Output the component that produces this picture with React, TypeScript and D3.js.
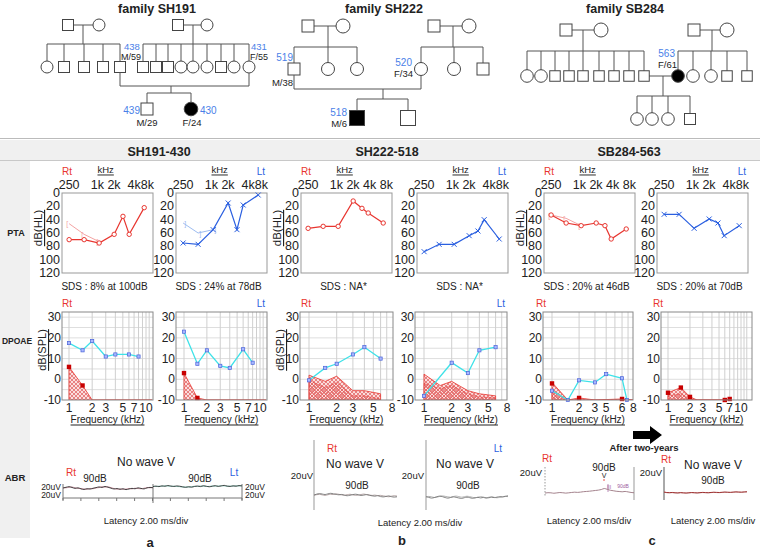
import React from 'react';
import * as d3 from 'd3';

const FONT = "'Liberation Sans', Arial, Helvetica, sans-serif";
const RED = '#e8352f';
const BLUE = '#2a5fe0';
const IDBLUE = '#4a7fe8';
const CYAN = '#3ee2e8';

// ---------------- PTA data ----------------
const ptaFreqs = [250, 500, 1000, 2000, 3000, 4000, 8000];
const ptaBcFreqs = [250, 500, 1000];
const ptaTicks = [0, 20, 40, 60, 80, 100, 120];
const ptaA_Rt = [70, 70, 75, 62, 35, 62, 22];
const ptaA_RtBC = [46, 62, 73];
const ptaA_Lt = [75, 77, 55, 15, 55, 18, 3];
const ptaA_LtBC = [45, 60, 55];
const ptaB_Rt = [53, 50, 50, 12, 23, 30, 45];
const ptaB_Lt = [88, 77, 77, 64, 57, 40, 69];
const ptaC_Rt = [33, 45, 49, 45, 49, 69, 54];
const ptaC_RtBC = [33, 38, 49];
const ptaC_Lt = [32, 32, 53, 39, 45, 64, 49];
const sdsTexts = ['SDS : 8% at 100dB', 'SDS : 24% at 78dB', 'SDS : NA*', 'SDS : NA*', 'SDS : 20% at 46dB', 'SDS : 20% at 70dB'];

// ---------------- DPOAE data ----------------
const dpTicksY = [-10, 0, 10, 20, 30];
const ticksA = [1, 2, 3, 5, 7, 10];
const ticksB = [1, 2, 3, 5, 8];
const ticksC = [1, 2, 3, 4, 6, 8];
const ticksCLabels = ['1', '2', '3', '5', '6', '8'];

const dpA_Rt_f = [1, 1.5, 2, 3, 4, 6, 8];
const dpA_Rt = [17.5, 14, 18.5, 11, 12, 12, 11];
const nfA_Rt_f = [1, 1.5, 2, 12];
const nfA_Rt = [6, -3, -10, -10];

const dpA_Lt_f = [1, 1.5, 2, 3, 4, 6, 8];
const dpA_Lt = [23, 7.5, 14, 6.5, 5.5, 14.5, 8];
const nfA_Lt_f = [1, 1.5, 2, 12];
const nfA_Lt = [3, -9, -10, -10];

const dpB_Rt_f = [1, 1.5, 2, 3, 4, 6];
const dpB_Rt = [-0.5, 5.5, 7.5, 12, 15.5, 10];
const nfB_f = [1, 1.5, 2, 3, 4, 6];
const nfB_RtHi = [2, -1, 1.5, -5.5, -5.5, -7];
const nfB_RtLo = [-0.5, -4, -1.5, -8, -8, -9.5];

const dpB_Lt_f = [1, 2, 3, 4, 6];
const dpB_Lt = [-8, 8, 3, 14, 15.5];
const nfB_LtHi = [2.5, -3, -1, -5.5, -7, -8];
const nfB_LtLo = [-2, -4.5, -3, -7, -8.5, -9];

const dpC_Rt_f = [1, 1.5, 2, 3, 4, 6, 6.8];
const dpC_Rt = [-5.5, -10, -0.5, -1.5, 2.5, 0.5, -10];
const nfC_Rt_f = [1, 1.5, 2, 3, 6, 8];
const nfC_Rt = [-1.5, -10, -9, -10, -9.5, -10];
const nfC_RtLo = [-5, -10, -10, -10, -10, -10];
const redC_Rt_f = [1, 2, 6];
const redC_Rt = [-2, -9, -9.5];

const nfC_Lt_f = [1, 1.5, 2, 2.5, 6, 7];
const nfC_Lt = [-6.5, -4, -8.5, -10, -10, -9.5];
const nfC_LtLo = [-8, -7, -9.5, -10, -10, -10];
const redC_Lt_f = [1, 1.5, 2, 6, 7];
const redC_Lt = [-6.5, -4, -8.5, -10, -9.5];

// ---------------- ABR traces (uV, 0..10 ms) ----------------
const abrA_Rt1 = [0.0, 1.2, 2.2, 0.9, -0.6, 0.3, -1.5, -2.4, -1.2, -1.8, -0.4, 0.6, 1.8, 0.9, 2.6, 1.3, -0.3, -1.6, -0.9, -2.2, -1.3, -2.7, -1.6, -0.6, -1.3, 0.3, -0.7, -1.5, 0.2, 1.0, 0.4];
const abrA_Rt2 = [0.4, 0.3, 1.3, 1.6, 0.3, -0.7, -0.9, -1.8, -2.1, -0.7, -1.2, 0.2, 0.7, 2.1, 1.5, 1.9, 0.6, -0.9, -1.9, -1.5, -2.1, -1.8, -0.9, -1.5, -0.3, -0.9, -1.3, -0.4, 0.6, 0.3, 0.9];
const abrA_Lt1 = [0.7, 1.5, 0.6, 1.9, 1.2, 2.4, 1.6, 0.9, 1.8, 1.3, 0.3, -0.6, 0.4, -0.3, 0.9, 1.6, 0.7, 2.1, 1.2, 0.4, 1.3, 2.2, 1.0, 1.8, 2.7, 1.5, 0.9, 1.9, 1.3, 2.4, 1.8];
const abrA_Lt2 = [1.1, 0.8, 1.4, 1.2, 2.0, 1.7, 1.1, 1.4, 0.8, 0.6, -0.2, 0.2, -0.1, 0.5, 1.2, 0.8, 1.6, 1.4, 0.9, 1.0, 1.7, 1.4, 1.6, 2.1, 1.9, 1.2, 1.5, 1.6, 2.0, 1.7, 2.2];
const abrB_Rt1 = [0.0, 1.5, 2.4, 1.6, 0.8, 1.9, 2.8, 2.0, 1.1, 0.3, 0.9, -0.4, -1.2, -0.5, 0.6, 1.3, 0.4, -0.8, -0.2, 0.7, -0.5, -1.4, -2.0, -1.1, -2.6, -3.2, -2.4, -1.5, -2.8, -3.5, -3.0];
const abrB_Rt2 = [-0.5, 0.6, 1.0, 0.2, -0.6, 0.4, 1.2, 0.9, 1.8, 1.1, 0.2, -0.2, 0.5, 1.2, 0.3, -0.5, -0.1, 0.8, 1.5, 0.6, 0.1, -0.7, -0.2, -1.0, -0.6, -1.5, -2.2, -2.9, -2.0, -1.3, -1.8];
const abrB_Lt1 = [0.5, -0.6, -1.8, -1.0, 0.4, 1.5, 0.6, -0.9, -1.9, -0.8, 0.2, -0.5, -1.6, -2.4, -1.2, -0.3, -1.1, -2.2, -1.4, -0.6, -1.5, -0.7, -1.8, -1.2, -0.4, -1.0, -0.2, 0.6, 0.1, 1.0, 2.0];
const abrB_Lt2 = [0.0, 1.0, 0.4, -0.8, -0.2, 0.9, 1.8, 1.1, 0.2, -0.4, 0.8, 1.5, 0.7, -0.3, 0.4, 1.3, 0.5, -0.5, -1.2, -0.3, 0.6, -0.2, -1.1, -0.4, 0.5, -0.6, -1.3, -0.5, 0.4, 1.2, 0.6];
const abrC_Rt = [0.0, 0.5, 0.3, -0.4, 0.2, 0.8, 0.4, -0.2, 0.3, 0.9, 1.4, 1.0, 1.5, 2.2, 2.6, 3.0, 3.6, 4.2, 4.8, 5.8, 7.5, 6.0, 4.6, 3.8, 2.9, 2.5, 2.0, 2.6, 1.8, 0.9, 0.4];
const abrC_Lt1 = [1.5, 0.8, 0.6, 0.9, 0.4, 0.2, 0.7, 0.3, 0.0, 0.4, 0.8, 0.5, 0.2, 0.6, 1.0, 0.7, 0.5, 0.9, 1.3, 1.0, 0.8, 1.2, 1.6, 1.3, 1.1, 1.5, 1.9, 1.6, 1.4, 1.8, 2.1];
const abrC_Lt2 = [2.5, 0.4, 0.2, 0.5, 0.1, -0.2, 0.3, 0.0, -0.3, 0.1, 0.5, 0.2, -0.1, 0.3, 0.7, 0.4, 0.2, 0.6, 1.0, 0.7, 0.5, 0.9, 1.3, 1.0, 0.8, 1.2, 1.6, 1.3, 1.1, 1.5, 1.8];

function T({ x, y, s = 10, c = '#222', a = 'middle', w = 'normal', u = false, children }: any) {
  return (
    <text x={x} y={y} fontSize={s} fill={c} textAnchor={a} fontWeight={w} dominantBaseline="central"
      textDecoration={u ? 'underline' : undefined} fontFamily={FONT}>{children}</text>
  );
}

function L({ x1, y1, x2, y2, c = '#555' }: any) {
  return <line x1={x1} y1={y1} x2={x2} y2={y2} stroke={c} strokeWidth={1} />;
}
function Sq({ x, y, s = 11, f = false }: any) {
  return <rect x={x - s / 2} y={y - s / 2} width={s} height={s} fill={f ? '#000' : '#fff'} stroke="#444" strokeWidth={1} />;
}
function Ci({ x, y, r = 6, f = false }: any) {
  return <circle cx={x} cy={y} r={r} fill={f ? '#000' : '#fff'} stroke="#444" strokeWidth={1} />;
}
function Sib({ y, xs, to }: any) {
  const mn = Math.min(...xs), mx = Math.max(...xs);
  return (
    <g>
      <L x1={mn} y1={y} x2={mx} y2={y} />
      {xs.map((x: number, i: number) => <L key={i} x1={x} y1={y} x2={x} y2={to} />)}
    </g>
  );
}

function Pedigrees() {
  return (
    <g>
      {/* SH191 */}
      <T x={157} y={9} s={12.5} w="bold">family SH191</T>
      <L x1={73} y1={25} x2={93} y2={25} /><L x1={83} y1={25} x2={83} y2={44} />
      <Sib y={44} xs={[47, 64, 84, 103, 120]} to={65} />
      <L x1={184} y1={25} x2={201} y2={25} /><L x1={193} y1={25} x2={193} y2={44} />
      <Sib y={44} xs={[143, 156, 168, 181, 193, 207, 221, 234, 249]} to={65} />
      <Sq x={68} y={25} /><Ci x={99} y={25} />
      <Sq x={178} y={25} /><Ci x={207} y={25} />
      <Ci x={47} y={67} /><Sq x={64} y={67} /><Sq x={84} y={67} /><Sq x={103} y={67} /><Sq x={120} y={67} />
      <Sq x={143} y={67} /><Sq x={156} y={67} /><Sq x={168} y={67} /><Ci x={181} y={67} /><Ci x={193} y={67} />
      <Ci x={207} y={67} /><Sq x={221} y={67} /><Ci x={234} y={67} /><Ci x={249} y={67} />
      <L x1={120} y1={72.5} x2={120} y2={86} /><L x1={120} y1={86} x2={249} y2={86} /><L x1={249} y1={73} x2={249} y2={86} />
      <L x1={171} y1={86} x2={171} y2={93} />
      <Sib y={93} xs={[147, 191]} to={103} />
      <Sq x={147} y={109} s={12} /><Ci x={191} y={109} r={6.8} f />
      <T x={124} y={46} s={9.5} c={IDBLUE} a="start">438</T>
      <T x={121} y={56.5} s={9} a="start">M/59</T>
      <T x={251} y={46} s={9.5} c={IDBLUE} a="start">431</T>
      <T x={250} y={56.5} s={9} a="start">F/55</T>
      <T x={140} y={110} s={10} c={IDBLUE} a="end">439</T>
      <T x={200} y={110} s={10} c={IDBLUE} a="start">430</T>
      <T x={147} y={122} s={9.5}>M/29</T>
      <T x={192} y={122} s={9.5}>F/24</T>

      {/* SH222 */}
      <T x={384} y={9} s={12.5} w="bold">family SH222</T>
      <L x1={314} y1={26} x2={336} y2={26} /><L x1={328} y1={26} x2={328} y2={47} />
      <Sib y={47} xs={[294, 328, 357]} to={64} />
      <L x1={440} y1={26} x2={462} y2={26} /><L x1={453} y1={26} x2={453} y2={47} />
      <Sib y={47} xs={[421, 454, 483]} to={64} />
      <Sq x={308} y={26} s={12} /><Ci x={343} y={26} r={7} />
      <Sq x={434} y={26} s={12} /><Ci x={469} y={26} r={7} />
      <Sq x={294} y={69} s={12} /><Ci x={328} y={69} r={6.5} /><Ci x={357} y={69} r={6.5} />
      <Ci x={421} y={69} r={6.5} /><Ci x={454} y={69} r={6.5} /><Sq x={483} y={69} s={12} />
      <L x1={294} y1={75} x2={294} y2={89} /><L x1={294} y1={89} x2={421} y2={89} /><L x1={421} y1={75.5} x2={421} y2={89} />
      <L x1={383} y1={89} x2={383} y2={99} />
      <Sib y={99} xs={[357, 408]} to={111} />
      <Sq x={357} y={118} s={15} f /><Sq x={408} y={118} s={15} />
      <T x={293} y={57} s={10} c={IDBLUE} a="end">519</T>
      <T x={293} y={82} s={9.5} a="end">M/38</T>
      <T x={412} y={62} s={10} c={IDBLUE} a="end">520</T>
      <T x={413} y={73} s={9.5} a="end">F/34</T>
      <T x={347} y={112} s={10} c={IDBLUE} a="end">518</T>
      <T x={347} y={123} s={9.5} a="end">M/6</T>

      {/* SB284 */}
      <T x={625} y={9} s={12.5} w="bold">family SB284</T>
      <L x1={572} y1={30} x2={594} y2={30} /><L x1={583} y1={30} x2={583} y2={51} />
      <Sib y={51} xs={[527, 541, 555, 569, 583, 599, 614, 629, 644]} to={71} />
      <L x1={700} y1={30} x2={720} y2={30} /><L x1={712} y1={30} x2={712} y2={51} />
      <Sib y={51} xs={[678, 693, 711, 727, 747]} to={71} />
      <Sq x={566} y={30} s={12} /><Ci x={601} y={30} r={7} />
      <Sq x={694} y={30} s={12} /><Ci x={727} y={30} r={7} />
      <L x1={644} y1={76} x2={678} y2={76} /><L x1={663} y1={76} x2={663} y2={96} />
      <Ci x={527} y={76} r={6.3} /><Ci x={541} y={76} r={6.3} />
      {[555, 569, 583, 599, 614, 629, 644].map((x) => <Sq key={x} x={x} y={76} s={10.5} />)}
      <Ci x={678} y={76} r={6.3} f /><Ci x={693} y={76} r={6.3} /><Ci x={711} y={76} r={6.3} />
      <Sq x={727} y={76} s={10.5} /><Sq x={747} y={76} s={10.5} />
      <Sib y={96} xs={[637, 652, 668, 690]} to={113} />
      <Ci x={637} y={119} r={6.3} /><Ci x={652} y={119} r={6.3} /><Ci x={668} y={119} r={6.3} /><Sq x={690} y={119} s={11} />
      <T x={675} y={53} s={10} c={IDBLUE} a="end">563</T>
      <T x={677} y={64} s={9.5} a="end">F/61</T>
    </g>
  );
}

function PTA({ x0, ear, vals, bc, showY, sds, lab48 }: any) {
  const w = 91, top = 193, h = 80;
  const x = d3.scaleLog().domain([180, 12000]).range([x0, x0 + w]);
  const y = d3.scaleLinear().domain([0, 120]).range([top, top + h]);
  const rt = ear === 'Rt';
  const col = rt ? RED : BLUE;
  const lcol = rt ? '#f4a3a3' : '#9dbcf0';
  const line = d3.line<any>().x((d) => x(d[0])).y((d) => y(d[1]));
  const pts = ptaFreqs.map((f, i) => [f, vals[i]]);
  const bcPts = bc ? ptaBcFreqs.map((f, i) => [f, bc[i]]) : [];
  return (
    <g>
      <rect x={x0} y={top} width={w} height={h} fill="#fff" stroke="#999" strokeWidth={1} />
      {ptaTicks.map((t) => <T key={t} x={x0 - 2} y={y(t)} s={12.5} a="end">{t}</T>)}
      <T x={x(250)} y={185} s={12.5}>250</T>
      <T x={x(1414) - 1} y={185} s={12.5}>1k 2k</T>
      <T x={x0 + w + 1} y={185} s={12.5} a="end">{lab48}</T>
      <T x={x(1414) - 1} y={169} s={9.5} u>kHz</T>
      {rt ? <T x={x0} y={171} s={10} c={RED} a="start">Rt</T>
        : <T x={x0 + w - 2} y={171} s={10} c={BLUE} a="end">Lt</T>}
      {showY && (
        <text transform={`translate(${x0 - 24},${top + 35}) rotate(-90)`} fontSize={11.5} textAnchor="middle"
          dominantBaseline="central" textDecoration="underline" fontFamily={FONT} fill="#222">dB(HL)</text>
      )}
      {bc && <path d={line(bcPts) || ''} stroke={lcol} strokeWidth={1} fill="none" />}
      {bcPts.map((d, i) => <T key={'b' + i} x={x(d[0]) + (rt ? -2 : 2)} y={y(d[1])} s={7} c={lcol}>{rt ? '[' : ']'}</T>)}
      <path d={line(pts) || ''} stroke={col} strokeWidth={1.2} fill="none" />
      {pts.map((d, i) => rt
        ? <circle key={i} cx={x(d[0])} cy={y(d[1])} r={2.2} fill="#fff" stroke={col} strokeWidth={1} />
        : <path key={i} d={`M${x(d[0]) - 2.5},${y(d[1]) - 2.5}L${x(d[0]) + 2.5},${y(d[1]) + 2.5}M${x(d[0]) - 2.5},${y(d[1]) + 2.5}L${x(d[0]) + 2.5},${y(d[1]) - 2.5}`} stroke={col} strokeWidth={1} />)}
      <T x={x0 + w / 2 - 3} y={286} s={10}>{sds}</T>
    </g>
  );
}

function DP({ id, x0, x1, x1k, ppd, ticks, tickLabels, dpF, dp, nF, nHi, nLo, rF, rV, showY, ear, earX, earAnchor }: any) {
  const top = 312, bot = 400;
  const x = d3.scaleLog().domain([1, 10]).range([x1k, x1k + ppd]);
  const y = d3.scaleLinear().domain([-10, 32.5]).range([bot, top]);
  const grid = d3.range(1, 13).filter((v) => x(v) > x0 + 1 && x(v) < x1 - 1);
  const hgrid = d3.range(-5, 32, 5);
  const area = d3.area<any>().x((d) => x(d[0])).y0(y(-10)).y1((d) => y(d[1]));
  const line = d3.line<any>().x((d) => x(d[0])).y((d) => y(d[1]));
  const hi = nF.map((f: number, i: number) => [f, nHi[i]]);
  const lo = nLo ? nF.map((f: number, i: number) => [f, nLo[i]]) : null;
  const dpts = dpF ? dpF.map((f: number, i: number) => [f, dp[i]]) : null;
  const reds = rF.map((f: number, i: number) => [f, rV[i]]);
  return (
    <g>
      <clipPath id={id}><rect x={x0} y={top} width={x1 - x0} height={bot - top} /></clipPath>
      <rect x={x0} y={top} width={x1 - x0} height={bot - top} fill="#fff" />
      {hgrid.map((v) => <line key={'h' + v} x1={x0} x2={x1} y1={y(v)} y2={y(v)} stroke="#dedede" strokeWidth={1} />)}
      {grid.map((v) => <line key={'v' + v} x1={x(v)} x2={x(v)} y1={top} y2={bot} stroke="#cfcfcf" strokeWidth={1} />)}
      <g clipPath={`url(#${id})`}>
        <path d={area(hi) || ''} fill="url(#hatch)" stroke={RED} strokeWidth={0.8} />
        {lo && <path d={area(lo) || ''} fill="url(#hatch2)" stroke={RED} strokeWidth={0.6} strokeOpacity={0.7} />}
        {dpts && <path d={line(dpts) || ''} stroke={CYAN} strokeWidth={1.3} fill="none" />}
      </g>
      {dpts && dpts.map((d: any, i: number) => (
        <rect key={i} x={x(d[0]) - 1.6} y={y(d[1]) - 1.6} width={3.2} height={3.2} fill="#a9b8ff" stroke="#4a63d9" strokeWidth={0.7} />
      ))}
      {reds.map((d: any, i: number) => (
        <rect key={'r' + i} x={x(d[0]) - 2.2} y={y(d[1]) - 2.2} width={4.4} height={4.4} fill="#c80000" />
      ))}
      <rect x={x0} y={top} width={x1 - x0} height={bot - top} fill="none" stroke="#888" strokeWidth={1} />
      {dpTicksY.map((t) => <T key={t} x={x0 - 1} y={y(t)} s={12} a="end">{t}</T>)}
      {ticks.map((t: number, i: number) => <T key={'t' + i} x={x(t)} y={408} s={12}>{tickLabels ? tickLabels[i] : t}</T>)}
      <T x={(x0 + x1) / 2} y={419} s={10} u>Frequency (kHz)</T>
      {showY && (
        <text transform={`translate(${x0 - 20},350) rotate(-90)`} fontSize={11} textAnchor="middle"
          dominantBaseline="central" textDecoration="underline" fontFamily={FONT} fill="#222">dB(SPL)</text>
      )}
      <T x={earX} y={303} s={10} c={ear === 'Rt' ? RED : BLUE} a={earAnchor}>{ear}</T>
    </g>
  );
}

function Trace({ x0, x1, base, vals, color, w = 0.9 }: any) {
  const x = d3.scaleLinear().domain([0, 10]).range([x0, x1]);
  const y = d3.scaleLinear().domain([-20, 20]).range([base + 12, base - 12]);
  const step = 10 / (vals.length - 1);
  const line = d3.line<number>().x((_, i) => x(i * step)).y((d) => y(d)).curve(d3.curveMonotoneX);
  return <path d={line(vals) || ''} stroke={color} strokeWidth={w} fill="none" />;
}

function ABR() {
  const axA = d3.scaleLinear().domain([0, 20]).range([63, 242]);
  return (
    <g>
      {/* a */}
      <T x={146} y={462} s={12}>No wave V</T>
      <T x={71} y={472} c={RED}>Rt</T>
      <T x={234} y={472} c={BLUE}>Lt</T>
      <T x={95} y={478}>90dB</T>
      <T x={200} y={478}>90dB</T>
      <T x={61} y={486.5} s={8.5} a="end">20uV</T>
      <T x={61} y={495} s={8.5} a="end">20uV</T>
      <T x={245} y={486.5} s={8.5} a="start">20uV</T>
      <T x={245} y={495} s={8.5} a="start">20uV</T>
      <line x1={63} x2={242} y1={498} y2={498} stroke="#777" />
      {d3.range(0, 21, 2).map((t) => <line key={t} x1={axA(t)} x2={axA(t)} y1={498} y2={501} stroke="#777" />)}
      <line x1={63} x2={63} y1={484} y2={500} stroke="#777" />
      <line x1={153} x2={153} y1={484} y2={503} stroke="#777" />
      <line x1={242} x2={242} y1={484} y2={500} stroke="#777" />
      <Trace x0={63} x1={153} base={488} vals={abrA_Rt2} color="#c98a9a" />
      <Trace x0={63} x1={153} base={488} vals={abrA_Rt1} color="#333" />
      <Trace x0={153} x1={242} base={487} vals={abrA_Lt2} color="#7fc7b8" />
      <Trace x0={153} x1={242} base={487} vals={abrA_Lt1} color="#333" />
      <T x={146} y={520} s={9.5}>Latency 2.00 ms/div</T>
      <T x={150} y={542} s={13} w="bold">a</T>

      {/* b */}
      <T x={332} y={448} c={RED}>Rt</T>
      <T x={502} y={448} c={BLUE} a="end">Lt</T>
      <T x={355} y={464} s={12}>No wave V</T>
      <T x={465} y={464} s={12}>No wave V</T>
      <line x1={314} x2={314} y1={440} y2={510} stroke="#999" />
      <line x1={426} x2={426} y1={440} y2={510} stroke="#999" />
      <T x={313} y={475} s={9.5} a="end">20uV</T>
      <T x={424} y={475} s={9.5} a="end">20uV</T>
      <T x={357} y={485}>90dB</T>
      <T x={468} y={485}>90dB</T>
      <Trace x0={314} x1={397} base={495} vals={abrB_Rt2} color="#a99" />
      <Trace x0={314} x1={397} base={495} vals={abrB_Rt1} color="#777" />
      <Trace x0={426} x1={508} base={497} vals={abrB_Lt2} color="#aaa" />
      <Trace x0={426} x1={508} base={497} vals={abrB_Lt1} color="#777" />
      <T x={420} y={522} s={9.5}>Latency 2.00 ms/div</T>
      <T x={402} y={540} s={13} w="bold">b</T>

      {/* c */}
      <path d="M633,431 L650,431 L650,426 L662,435 L650,444 L650,439 L633,439 Z" fill="#000" />
      <T x={644} y={447} s={9.5} w="bold">After two-years</T>
      <T x={547} y={458.5} c={RED}>Rt</T>
      <T x={666} y={459} c={RED}>Rt</T>
      <T x={542} y={472} s={9.5} a="end">20uV</T>
      <T x={662} y={472} s={9.5} a="end">20uV</T>
      <line x1={545} x2={545} y1={467} y2={497} stroke="#999" strokeDasharray="1.5,1.5" />
      <line x1={634} x2={634} y1={467} y2={500} stroke="#999" />
      <line x1={664} x2={664} y1={467} y2={500} stroke="#555" />
      <T x={604} y={467}>90dB</T>
      <T x={604} y={475} s={7}>V</T>
      <circle cx={604} cy={480} r={0.8} fill={RED} />
      <T x={609} y={487} s={5} c="#a060a0">III</T>
      <T x={623} y={486} s={5} c="#a060a0">90dB</T>
      <line x1={608} x2={608} y1={484} y2={492} stroke="#a060a0" strokeWidth={0.7} />
      <Trace x0={545} x1={634} base={493} vals={abrC_Rt} color="#9a7580" />
      <T x={713} y={465} s={12}>No wave V</T>
      <T x={713} y={480}>90dB</T>
      <Trace x0={664} x1={747} base={493} vals={abrC_Lt2} color="#c9a0a0" />
      <Trace x0={664} x1={747} base={493} vals={abrC_Lt1} color="#992222" />
      <T x={589} y={520} s={9.5}>Latency 2.00 ms/div</T>
      <T x={713} y={520} s={9.5}>Latency 2.00 ms/div</T>
      <T x={652} y={540} s={13} w="bold">c</T>
    </g>
  );
}

export default function App() {
  return (
    <svg width={760} height={548} viewBox="0 0 760 548" style={{ position: 'absolute', left: 0, top: 0, background: '#fff' }} fontFamily={FONT}>
      <defs>
        <pattern id="hatch" width="4" height="4" patternUnits="userSpaceOnUse">
          <rect width="4" height="4" fill="#fbdede" />
          <path d="M0,0 L4,4 M4,0 L0,4" stroke="#e05a5a" strokeWidth="0.7" />
        </pattern>
        <pattern id="hatch2" width="3" height="3" patternUnits="userSpaceOnUse">
          <path d="M0,0 L3,3 M3,0 L0,3" stroke="#e05a5a" strokeWidth="0.6" />
        </pattern>
      </defs>
      <rect width={760} height={548} fill="#fff" />
      <Pedigrees />
      <line x1={0} x2={760} y1={138.5} y2={138.5} stroke="#bbb" />
      <rect x={0} y={140} width={760} height={21} fill="#f0f0f0" />
      <line x1={0} x2={760} y1={160.5} y2={160.5} stroke="#c8c8c8" />
      <rect x={0} y={161} width={30} height={377} fill="#f0f0f0" />
      <T x={159} y={152} s={12.5} w="bold">SH191-430</T>
      <T x={387} y={152} s={12.5} w="bold">SH222-518</T>
      <T x={629} y={152} s={12.5} w="bold">SB284-563</T>
      <T x={16} y={233} s={9} w="bold">PTA</T>
      <T x={17} y={341} s={8.5} w="bold">DPOAE</T>
      <T x={15} y={477} s={9.5} w="bold">ABR</T>

      <PTA x0={62} ear="Rt" vals={ptaA_Rt} bc={ptaA_RtBC} showY sds={sdsTexts[0]} lab48="4k8k" />
      <PTA x0={176} ear="Lt" vals={ptaA_Lt} bc={ptaA_LtBC} sds={sdsTexts[1]} lab48="4k8k" />
      <PTA x0={301} ear="Rt" vals={ptaB_Rt} showY sds={sdsTexts[2]} lab48="4k 8k" />
      <PTA x0={417} ear="Lt" vals={ptaB_Lt} sds={sdsTexts[3]} lab48="4k8k" />
      <PTA x0={544} ear="Rt" vals={ptaC_Rt} bc={ptaC_RtBC} showY sds={sdsTexts[4]} lab48="4k 8k" />
      <PTA x0={657} ear="Lt" vals={ptaC_Lt} sds={sdsTexts[5]} lab48="4k8k" />

      <DP id="dp1" x0={62} x1={153} x1k={69} ppd={77} ticks={ticksA} dpF={dpA_Rt_f} dp={dpA_Rt} nF={nfA_Rt_f} nHi={nfA_Rt}
        rF={[1, 1.5]} rV={[6, -3]} showY ear="Rt" earX={62} earAnchor="start" />
      <DP id="dp2" x0={176} x1={267} x1k={184} ppd={76} ticks={ticksA} dpF={dpA_Lt_f} dp={dpA_Lt} nF={nfA_Lt_f} nHi={nfA_Lt}
        rF={[1, 1.5]} rV={[3, -9]} ear="Lt" earX={265} earAnchor="end" />
      <DP id="dp3" x0={300} x1={393} x1k={309} ppd={92} ticks={ticksB} dpF={dpB_Rt_f} dp={dpB_Rt} nF={nfB_f} nHi={nfB_RtHi} nLo={nfB_RtLo}
        rF={[]} rV={[]} showY ear="Rt" earX={301} earAnchor="start" />
      <DP id="dp4" x0={415} x1={507} x1k={424} ppd={92} ticks={ticksB} dpF={dpB_Lt_f} dp={dpB_Lt} nF={nfB_f} nHi={nfB_LtHi} nLo={nfB_LtLo}
        rF={[]} rV={[]} ear="Lt" earX={505} earAnchor="end" />
      <DP id="dp5" x0={543} x1={633} x1k={552} ppd={90} ticks={ticksC} tickLabels={ticksCLabels} dpF={dpC_Rt_f} dp={dpC_Rt} nF={nfC_Rt_f} nHi={nfC_Rt} nLo={nfC_RtLo}
        rF={redC_Rt_f} rV={redC_Rt} ear="Rt" earX={536} earAnchor="start" />
      <DP id="dp6" x0={661} x1={752} x1k={668} ppd={73} ticks={ticksA} nF={nfC_Lt_f} nHi={nfC_Lt} nLo={nfC_LtLo}
        rF={redC_Lt_f} rV={redC_Lt} ear="Rt" earX={653} earAnchor="start" />

      <ABR />
    </svg>
  );
}
